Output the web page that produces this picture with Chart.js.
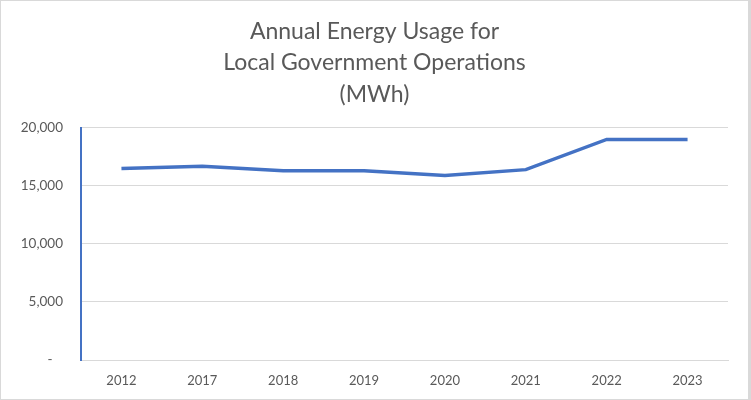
<!DOCTYPE html>
<html>
<head>
<meta charset="utf-8">
<script src="https://cdn.jsdelivr.net/npm/chart.js@4.4.0/dist/chart.umd.min.js"></script>
<style>
  html, body { margin: 0; padding: 0; background: #fff; }
  #wrap { position: relative; width: 751px; height: 400px; box-sizing: border-box; border: 1px solid #d9d9d9; border-right-width: 3px; }
</style>
</head>
<body>
<div id="wrap"><canvas id="chart" width="747" height="398"></canvas></div>
<script>
const years = ["2012", "2017", "2018", "2019", "2020", "2021", "2022", "2023"];
const usageMWh = [16500, 16700, 16300, 16300, 15900, 16400, 19000, 19000];
const titleLines = ["Annual Energy Usage for", "Local Government Operations", "(MWh)"];

const textColor = "#595959";
const lineBlue = "#4472C4";

new Chart(document.getElementById("chart"), {
    type: "line",
    data: {
        labels: years,
        datasets: [{
            data: usageMWh,
            borderColor: lineBlue,
            borderWidth: 3.5,
            pointRadius: 0,
            tension: 0,
            fill: false,
        }]
    },
    options: {
        responsive: false,
        animation: false,
        layout: { padding: 0 },
        plugins: {
            legend: { display: false },
            tooltip: { enabled: false },
            title: {
                display: true,
                text: titleLines,
                color: textColor,
                font: { family: "Lato", size: 23, weight: "normal", lineHeight: 1.36 },
                padding: { top: 15, bottom: 18 },
            },
        },
        scales: {
            x: {
                offset: true,
                grid: { display: false, drawTicks: false },
                border: { display: true, color: "#d9d9d9", width: 1 },
                ticks: { color: textColor, font: { family: "Lato", size: 13 }, padding: 13, maxRotation: 0 },
                afterFit: (s) => { s.height = 39; },
            },
            y: {
                min: 0,
                max: 20000,
                grid: { color: "#d9d9d9", drawTicks: false },
                border: { display: true, color: lineBlue, width: 2 },
                ticks: {
                    stepSize: 5000,
                    color: textColor,
                    font: { family: "Lato", size: 13.5 },
                    padding: 18,
                    callback: (v) => v === 0 ? "-   " : v.toLocaleString("en-US"),
                },
                afterFit: (s) => { s.width = 80; },
            },
            // empty right-hand gap after the plot area
            yRight: {
                position: "right",
                grid: { display: false, drawTicks: false },
                border: { display: false },
                ticks: { display: false },
                afterFit: (s) => { s.width = 20; },
            },
        },
    },
});
</script>
</body>
</html>
